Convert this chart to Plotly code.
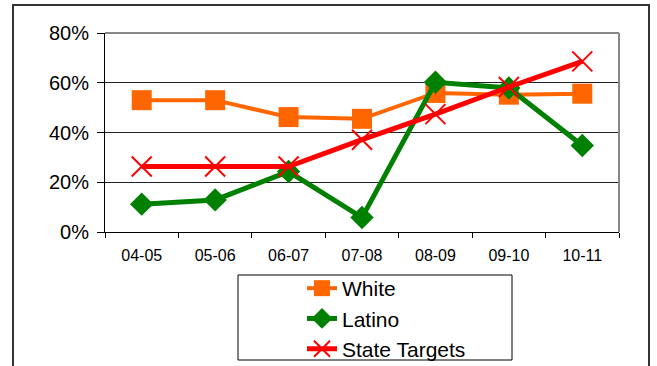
import plotly.graph_objects as go

categories = ["04-05", "05-06", "06-07", "07-08", "08-09", "09-10", "10-11"]
white = [0.53, 0.53, 0.462, 0.455, 0.559, 0.552, 0.556]
latino = [0.112, 0.129, 0.243, 0.058, 0.602, 0.579, 0.348]
state_targets = [0.263, 0.263, 0.263, 0.371, 0.474, 0.583, 0.686]
y_ticks = [0, 0.2, 0.4, 0.6, 0.8]

FONT = "Liberation Sans, Arial, sans-serif"

fig = go.Figure()
fig.add_trace(go.Scatter(
    x=categories, y=white, name="White", mode="lines+markers",
    line=dict(color="#FF6600", width=4),
    marker=dict(symbol="square", size=20, color="#FF6600"),
))
fig.add_trace(go.Scatter(
    x=categories, y=latino, name="Latino", mode="lines+markers",
    line=dict(color="#008000", width=5),
    marker=dict(symbol="diamond", size=18, color="#008000"),
))
fig.add_trace(go.Scatter(
    x=categories, y=state_targets, name="State Targets", mode="lines+markers",
    line=dict(color="#FF0000", width=5),
    marker=dict(symbol="x-thin-open", size=20, line=dict(color="#FF0000", width=2)),
))

W, H = 657, 366
SL, SR, ST, SB = 105, 619, 33, 232  # plot area in screen pixels
L, R, T, B = SL, W - SR, ST, H - SB
pw, ph = W - L - R, H - T - B


def px(x):
    return (x - L) / pw


def py(y):
    return (H - B - y) / ph


fig.update_layout(
    width=W, height=H,
    margin=dict(l=L, r=R, t=T, b=B, pad=0, autoexpand=False),
    paper_bgcolor="white", plot_bgcolor="white",
    font=dict(family=FONT, color="black"),
    showlegend=True,
    legend=dict(
        x=px(302), y=py(268), xanchor="left", yanchor="top",
        font=dict(size=21, family=FONT), bgcolor="rgba(0,0,0,0)",
        borderwidth=0, tracegroupgap=0, itemwidth=30,
    ),
    xaxis=dict(
        type="category", range=[-0.5, 6.5], showgrid=False,
        showline=True, linecolor="black", linewidth=1,
        ticks="outside", tickson="boundaries", ticklen=5, tickcolor="black",
        tickfont=dict(size=16), mirror=False, automargin=False,
        ticklabelstandoff=9,
    ),
    yaxis=dict(
        range=[0, 0.8], tickvals=y_ticks, tickformat=".0%",
        showgrid=True, gridcolor="#222222", gridwidth=1,
        showline=True, linecolor="black", linewidth=1,
        ticks="outside", ticklen=7, tickcolor="black",
        tickfont=dict(size=20), zeroline=False, automargin=False,
        ticklabelstandoff=4,
    ),
    shapes=[
        dict(type="line", xref="paper", yref="paper", x0=0, x1=1, y0=1, y1=1,
             line=dict(color="#888888", width=2), layer="above"),
        dict(type="line", xref="paper", yref="paper", x0=1, x1=1, y0=0, y1=1,
             line=dict(color="#888888", width=2), layer="above"),
        dict(type="rect", xref="paper", yref="paper",
             x0=px(13), x1=px(649), y0=py(380), y1=py(5),
             line=dict(color="#333333", width=2), fillcolor="rgba(0,0,0,0)"),
        dict(type="rect", xref="paper", yref="paper",
             x0=px(238), x1=px(512), y0=py(360), y1=py(275),
             line=dict(color="black", width=1), fillcolor="rgba(0,0,0,0)"),
    ],
)

fig.write_html(
    "out.html",
    config={"displayModeBar": False},
    post_script="document.body.style.margin='0px';document.body.style.overflow='hidden';",
)
